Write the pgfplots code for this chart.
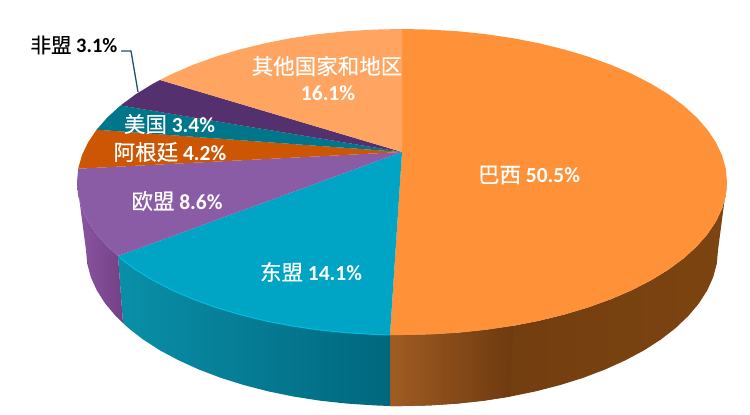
\documentclass[border=0pt]{standalone}
\usepackage{pgfplots}
\pgfplotsset{compat=1.18}
\usepackage{fontspec}
\setmainfont{Carlito}
\newfontfamily\cjk[FakeBold=0.4]{Noto Sans CJK SC}

\definecolor{cOrange}{HTML}{FF9239}
\definecolor{cOther}{HTML}{FFA561}
\definecolor{cAfrica}{HTML}{54306E}
\definecolor{cUSA}{HTML}{00768A}
\definecolor{cArg}{HTML}{CC5603}
\definecolor{cEU}{HTML}{8B5CA6}
\definecolor{cAsean}{HTML}{00A4C4}
\definecolor{sBrA}{HTML}{A05C22}
\definecolor{sBrB}{HTML}{6E3A10}
\definecolor{sBrC}{HTML}{7C4410}
\definecolor{sAsA}{HTML}{0A8FA8}
\definecolor{sAsB}{HTML}{00677E}
\definecolor{sEuA}{HTML}{8A56A4}
\definecolor{sEuB}{HTML}{744084}
\definecolor{cRim}{HTML}{00BEE1}
\definecolor{cLead}{HTML}{1F4E79}

\newcommand{\lab}[2]{{\cjk #1} \textbf{#2}}

\begin{document}
\begin{tikzpicture}
\useasboundingbox (0,0) rectangle (750pt,415pt);
\begin{axis}[
    at={(0,0)}, anchor=south west,
    scale only axis,
    width=750pt, height=415pt,
    xmin=0, xmax=750,
    ymin=0, ymax=415,
    y dir=reverse,
    hide axis,
    no markers,
    every axis plot/.append style={draw=none},
    nodes={font=\fontsize{21.5}{24}\selectfont, text=white, inner sep=0pt, align=center},
]

% side walls, drawn first
% Brazil, whole wall
\addplot[left color=sBrB, right color=sBrC] coordinates {
(727,182) (725.8,195.3) (722.1,208.6) (715.9,221.6) (707.4,234.3) (696.5,246.7) (683.5,258.5) (668.2,269.8)
(651,280.3) (631.8,290.2) (610.9,299.2) (588.4,307.3) (564.5,314.5) (539.3,320.7) (513.2,325.8) (486.1,329.8)
(458.4,332.7) (430.3,334.4) (402,335) (390,335) (390,406) (402,406) (429.6,405.4) (456.9,403.6) (483.8,400.7)
(510.1,396.6) (535.5,391.4) (560,385.1) (583.3,377.8) (605.1,369.5) (625.4,360.3) (644.1,350.3) (660.9,339.5)
(675.7,328) (688.4,315.9) (698.9,303.4) (707.2,290.4) (713.2,277.1) (716.8,263.6) (718,250)
} -- cycle;
% Brazil, lit part near the front
\addplot[left color=sBrA, right color=sBrB] coordinates {
(390,335) (402,335) (430.3,334.4) (458.4,332.7) (486.1,329.8) (513.2,325.8) (510.1,396.6) (483.8,400.7)
(456.9,403.6) (429.6,405.4) (402,406) (390,406)
} -- cycle;
% ASEAN
\addplot[left color=sAsA, right color=sAsB] coordinates {
(118,256) (120.5,258.5) (135.8,269.8) (153,280.3) (172.2,290.2) (193.1,299.2) (215.6,307.3) (239.5,314.5)
(264.7,320.7) (290.8,325.8) (317.9,329.8) (345.6,332.7) (373.7,334.4) (390,335) (390,406) (374.4,405.4)
(347.1,403.6) (320.2,400.7) (293.9,396.6) (268.5,391.4) (244,385.1) (220.7,377.8) (198.9,369.5) (178.6,360.3)
(159.9,350.3) (143.1,339.5) (128.3,328) (123,323)
} -- cycle;
% EU
\addplot[left color=sEuA, right color=sEuB] coordinates {
(77,182) (78.2,195.3) (81.9,208.6) (88.1,221.6) (96.6,234.3) (107.5,246.7) (118,256) (123,323) (115.6,315.9)
(105.1,303.4) (96.8,290.4) (90.8,277.1) (87.2,263.6) (86,250)
} -- cycle;

% top face
% Brazil 50.5
\addplot[fill=cOrange] coordinates {
(402,152) (402,29) (430.3,29.6) (458.4,31.3) (486.1,34.2) (513.2,38.2) (539.3,43.3) (564.5,49.5) (588.4,56.7)
(610.9,64.8) (631.8,73.8) (651,83.7) (668.2,94.2) (683.5,105.5) (696.5,117.3) (707.4,129.7) (715.9,142.4)
(722.1,155.4) (725.8,168.7) (727,182) (725.8,195.3) (722.1,208.6) (715.9,221.6) (707.4,234.3) (696.5,246.7)
(683.5,258.5) (668.2,269.8) (651,280.3) (631.8,290.2) (610.9,299.2) (588.4,307.3) (564.5,314.5) (539.3,320.7)
(513.2,325.8) (486.1,329.8) (458.4,332.7) (430.3,334.4) (402,335) (390,335)
} -- cycle;
% ASEAN 14.1
\addplot[fill=cAsean] coordinates {
(402,152) (390,335) (373.7,334.4) (345.6,332.7) (317.9,329.8) (290.8,325.8) (264.7,320.7) (239.5,314.5)
(215.6,307.3) (193.1,299.2) (172.2,290.2) (153,280.3) (135.8,269.8) (120.5,258.5) (118,256)
} -- cycle;
% EU 8.6
\addplot[fill=cEU] coordinates {
(402,152) (118,256) (107.5,246.7) (96.6,234.3) (88.1,221.6) (81.9,208.6) (78.2,195.3) (77,182) (78.2,168.7)
} -- cycle;
% Argentina 4.2
\addplot[fill=cArg] coordinates {
(402,152) (78.2,168.7) (81.9,155.4) (88.1,142.4) (96.6,129.7)
} -- cycle;
% USA 3.4
\addplot[fill=cUSA] coordinates {
(402,152) (96.6,129.7) (107.5,117.3) (120.5,105.5)
} -- cycle;
% Africa 3.1
\addplot[fill=cAfrica] coordinates {
(402,152) (120.5,105.5) (135.8,94.2) (153,83.7) (160,80)
} -- cycle;
% other 16.1
\addplot[fill=cOther] coordinates {
(402,152) (160,80) (172.2,73.8) (193.1,64.8) (215.6,56.7) (239.5,49.5) (264.7,43.3) (290.8,38.2) (317.9,34.2)
(345.6,31.3) (373.7,29.6) (402,29)
} -- cycle;

% bright edge along the ASEAN rim
\addplot[draw=cRim, line width=1pt] coordinates {
(120.5,258.5) (135.8,269.8) (153,280.3) (172.2,290.2) (193.1,299.2) (215.6,307.3) (239.5,314.5)
(264.7,320.7) (290.8,325.8) (317.9,329.8) (345.6,332.7) (373.7,334.4) (390,335)
};

% leader line
\addplot[draw=cLead, line width=1.3pt] coordinates {(121,51) (131,51) (138,92)};

\node at (axis cs:74,45) [text=black, font=\fontsize{20.5}{23}\selectfont] {\lab{非盟}{3.1\%}};
\node at (axis cs:169.5,124) {\lab{美国}{3.4\%}};
\node at (axis cs:170,152) {\lab{阿根廷}{4.2\%}};
\node at (axis cs:177,201) {\lab{欧盟}{8.6\%}};
\node at (axis cs:311,272) {\lab{东盟}{14.1\%}};
\node at (axis cs:529,175) {\lab{巴西}{50.5\%}};
\node at (axis cs:327,66) {{\cjk 其他国家和地区}};
\node at (axis cs:328,93) {\textbf{16.1\%}};

\end{axis}
\end{tikzpicture}
\end{document}
